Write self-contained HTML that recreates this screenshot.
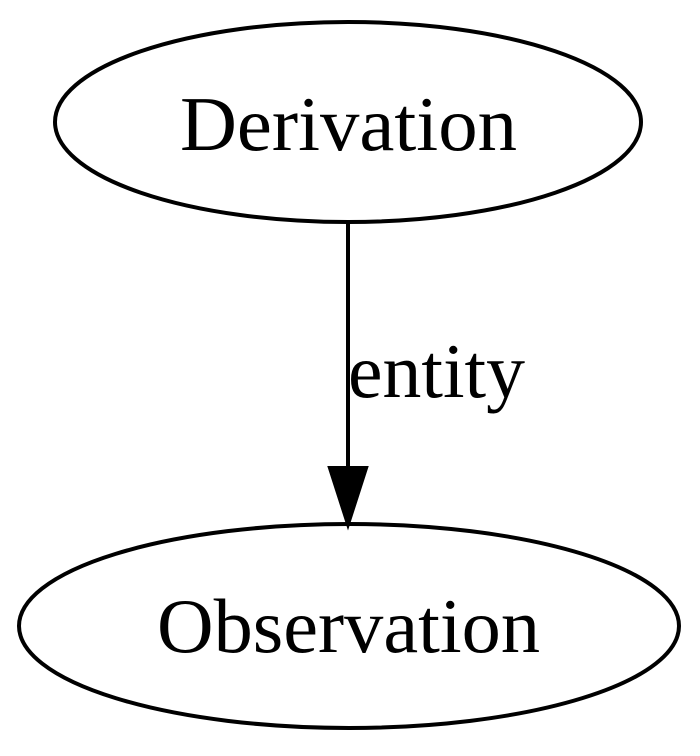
<!DOCTYPE html>
<html><head><style>html,body{margin:0;padding:0;background:#fff;}</style></head>
<body>
<svg width="700" height="751" viewBox="0 0 700 751" xmlns="http://www.w3.org/2000/svg">
<rect width="700" height="751" fill="#fff"/>
<ellipse cx="348" cy="122" rx="293" ry="100" fill="none" stroke="#000" stroke-width="4"/>
<text x="180" y="150" textLength="337" lengthAdjust="spacingAndGlyphs" font-family="Liberation Serif, serif" font-size="77">Derivation</text>
<line x1="348" y1="224" x2="348" y2="470" stroke="#000" stroke-width="4"/>
<polygon points="330,468 366,468 348,524" fill="#000" stroke="#000" stroke-width="4"/>
<text x="348" y="397" textLength="177" lengthAdjust="spacingAndGlyphs" font-family="Liberation Serif, serif" font-size="77">entity</text>
<ellipse cx="349" cy="626" rx="330" ry="102" fill="none" stroke="#000" stroke-width="4"/>
<text x="157" y="652" textLength="383" lengthAdjust="spacingAndGlyphs" font-family="Liberation Serif, serif" font-size="77">Observation</text>
</svg>
</body></html>
